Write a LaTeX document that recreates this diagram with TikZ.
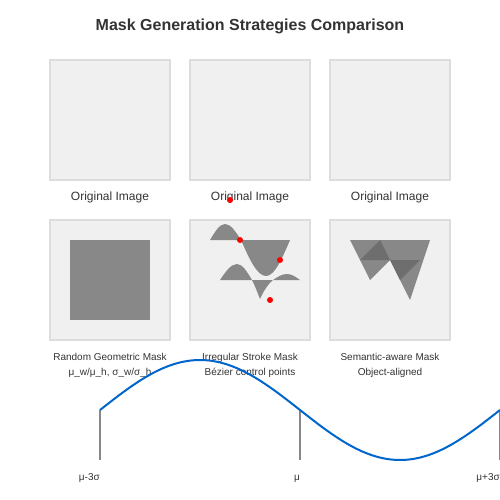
\documentclass[tikz,border=0pt]{standalone}
\usepackage{fontspec}
\setmainfont{Liberation Sans}
\usepackage{xcolor}
\definecolor{PanelFill}{HTML}{F0F0F0}
\definecolor{PanelEdge}{HTML}{DDDDDD}
\definecolor{MaskGray}{HTML}{888888}
\definecolor{MaskDark}{HTML}{6E6E6E}
\definecolor{LabelDark}{HTML}{333333}
\definecolor{WaveBlue}{HTML}{0066CC}
\definecolor{TickGray}{HTML}{888888}
\definecolor{PointRed}{HTML}{FF0000}

\begin{document}
\begin{tikzpicture}[x=1pt, y=-1pt,
    panel/.style={fill=PanelFill, draw=PanelEdge, line width=1.5pt},
    caption/.style={anchor=base, text=LabelDark, font=\fontsize{12}{14}\selectfont},
    smallcap/.style={anchor=base, text=LabelDark, font=\fontsize{10}{12}\selectfont},
    ctrlpt/.style={fill=PointRed, radius=3}]
    \useasboundingbox (0,0) rectangle (500,500);

    % Title
    \node[anchor=base, text=LabelDark, font=\bfseries\fontsize{16}{19}\selectfont] (title) at (250,31) {Mask Generation Strategies Comparison};

    % Original images
    \draw[panel] (50,60) rectangle (170,180);
    \draw[panel] (190,60) rectangle (310,180);
    \draw[panel] (330,60) rectangle (450,180);
    \node[caption] (origA) at (110,200) {Original Image};
    \node[caption] (origB) at (250,200) {Original Image};
    \node[caption] (origC) at (390,200) {Original Image};

    % Masked panels
    \draw[panel] (50,220) rectangle (170,340);
    \draw[panel] (190,220) rectangle (310,340);
    \draw[panel] (330,220) rectangle (450,340);

    % Random geometric mask
    \fill[MaskGray] (70,240) rectangle (150,320);

    % Irregular stroke mask
    \fill[MaskGray] (210,240) sin (225,224) cos (241,240) sin (266,276) cos (290,240) -- cycle;
    \fill[MaskGray] (220,280) sin (237,264) cos (252,280)
        .. controls (256,288) and (258,294) .. (260,299)
        .. controls (263,292) and (268,284) .. (273,280)
        sin (287,274) cos (300,280) -- cycle;

    % Semantic-aware mask
    \fill[MaskGray] (350,240) -- (430,240) -- (410,300) -- (390,260) -- (370,280) -- cycle;
    \fill[MaskDark] (360,260) -- (380,240) -- (390,260) -- cycle;
    \fill[MaskDark] (390,260) -- (420,260) -- (400,280) -- cycle;

    % Labels
    \node[smallcap] (geoA) at (110,360) {Random Geometric Mask};
    \node[smallcap] (geoB) at (110,375) {μ\_w/μ\_h, σ\_w/σ\_h};
    \node[smallcap] (strokeA) at (250,360) {Irregular Stroke Mask};
    \node[smallcap] (strokeB) at (250,375) {Bézier control points};
    \node[smallcap] (semA) at (390,360) {Semantic-aware Mask};
    \node[smallcap] (semB) at (390,375) {Object-aligned};

    % Control points
    \fill[ctrlpt] (230,200) circle;
    \fill[ctrlpt] (240,240) circle;
    \fill[ctrlpt] (280,260) circle;
    \fill[ctrlpt] (270,300) circle;

    % Distribution axis
    \coordinate (lowTick) at (100,410);
    \coordinate (midTick) at (300,410);
    \coordinate (highTick) at (500,410);
    \draw[TickGray, line width=1.5pt] (lowTick) -- ++(0,50);
    \draw[TickGray, line width=1.5pt] (midTick) -- ++(0,50);
    \draw[TickGray, line width=1.5pt] (highTick) -- ++(0,50);
    \node[smallcap, anchor=base east, inner sep=0pt] (lowLbl) at (100,480) {μ-3σ};
    \node[smallcap, anchor=base east, inner sep=0pt] (midLbl) at (300,480) {μ};
    \node[smallcap, anchor=base east, inner sep=0pt] (highLbl) at (500,480) {μ+3σ};

    % Wave
    \draw[WaveBlue, line width=2pt, domain=100:500, samples=120, smooth] plot (\x, {410-50*sin(0.9*(\x-100))});
\end{tikzpicture}
\end{document}
